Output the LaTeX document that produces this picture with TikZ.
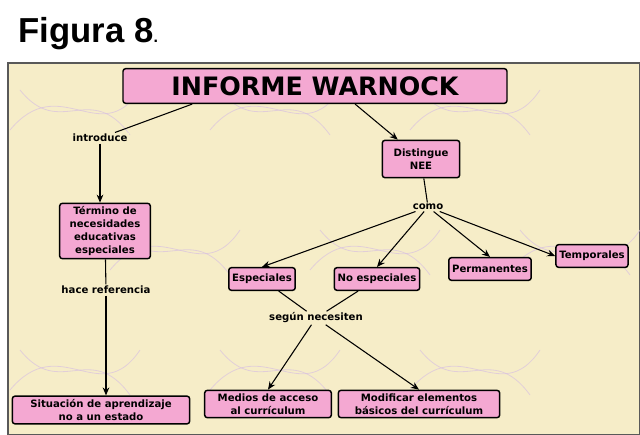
\documentclass[tikz,border=0pt]{standalone}
\usepackage{fontspec}
\setmainfont{DejaVu Sans}
\newfontfamily\figfont{Liberation Sans}
\usetikzlibrary{arrows.meta}
\definecolor{bg}{HTML}{F6EDC8}
\definecolor{pk}{HTML}{F4A8D2}
\definecolor{lav}{HTML}{D9C2E0}
\begin{document}
\begin{tikzpicture}[x=0.75pt,y=-0.75pt,
  bx/.style={draw=black,line width=1.1pt,fill=pk,rounded corners=2pt,font=\bfseries\fontsize{7.6}{9.6}\selectfont,align=center,inner sep=2.5pt},
  lb/.style={font=\bfseries\fontsize{7.6}{9.6}\selectfont,fill=bg,inner sep=1pt},
  ar/.style={-{Stealth[length=6pt,width=5pt]},line width=0.8pt},
  ln/.style={line width=0.8pt}]
\useasboundingbox (0,0) rectangle (640,435);
\fill[white] (0,0) rectangle (640,435);
\node[anchor=west,font=\figfont\bfseries\fontsize{26}{28}\selectfont] (fig) at (14,34) {Figura 8\fontsize{12}{12}\selectfont.};
\draw[fill=bg,draw=gray!70!black,line width=1pt] (8,63) rectangle (640,435);
\foreach \cx/\cy in {60/110,260/110,460/110,160/250,360/250,560/250,60/370,260/370,460/370}{
  \draw[lav,line width=0.6pt,opacity=0.7] (\cx-50,\cy+20) .. controls (\cx,\cy-40) and (\cx+40,\cy+40) .. (\cx+80,\cy-20);
  \draw[lav,line width=0.6pt,opacity=0.7] (\cx-40,\cy-20) .. controls (\cx,\cy+30) and (\cx+30,\cy-30) .. (\cx+70,\cy+25);
}
\node[bx,font=\bfseries\fontsize{19}{21}\selectfont,minimum width=288pt,minimum height=26pt,inner sep=2pt] (t) at (315,86) {INFORME WARNOCK};
\node[lb] (intro) at (100,138) {introduce};
\node[bx,minimum width=58pt,minimum height=28pt] (dist) at (421,159) {Distingue\\NEE};
\node[bx,minimum width=68pt] (term) at (105,231) {Término de\\necesidades\\educativas\\especiales};
\node[lb] (como) at (428,207) {como};
\node[lb] (hace) at (106,290) {hace referencia};
\node[bx,minimum height=17pt] (esp) at (262,279) {Especiales};
\node[bx,minimum height=17pt] (noesp) at (377,279) {No especiales};
\node[bx,minimum height=17pt] (perm) at (490,269) {Permanentes};
\node[bx,minimum height=17pt] (temp) at (592,256) {Temporales};
\node[lb] (seg) at (316,318) {según necesiten};
\node[bx,minimum width=133pt] (sit) at (101,410) {Situación de aprendizaje\\no a un estado};
\node[bx,minimum width=95pt] (med) at (268,404) {Medios de acceso\\al currículum};
\node[bx,minimum width=121pt] (mod) at (419,404) {Modificar elementos\\básicos del currículum};
\draw[ln] (t.south west)++(70,0) -- (intro);
\draw[ar] (intro) -- (intro|-term.north);
\draw[ar] (355,104) -- (dist);
\draw[ln] (dist) -- (como);
\draw[ar] (como) -- (esp.north);
\draw[ar] (como) -- (noesp.north);
\draw[ar] (como) -- (perm.north);
\draw[ar] (como) -- (temp.west);
\draw[ln] (term) -- (hace);
\draw[ar] (hace) -- (hace|-sit.north);
\draw[ln] (esp) -- (seg);
\draw[ln] (noesp) -- (seg);
\draw[ar] (seg) -- (med.north);
\draw[ar] (seg) -- (mod.north);
\end{tikzpicture}
\end{document}
